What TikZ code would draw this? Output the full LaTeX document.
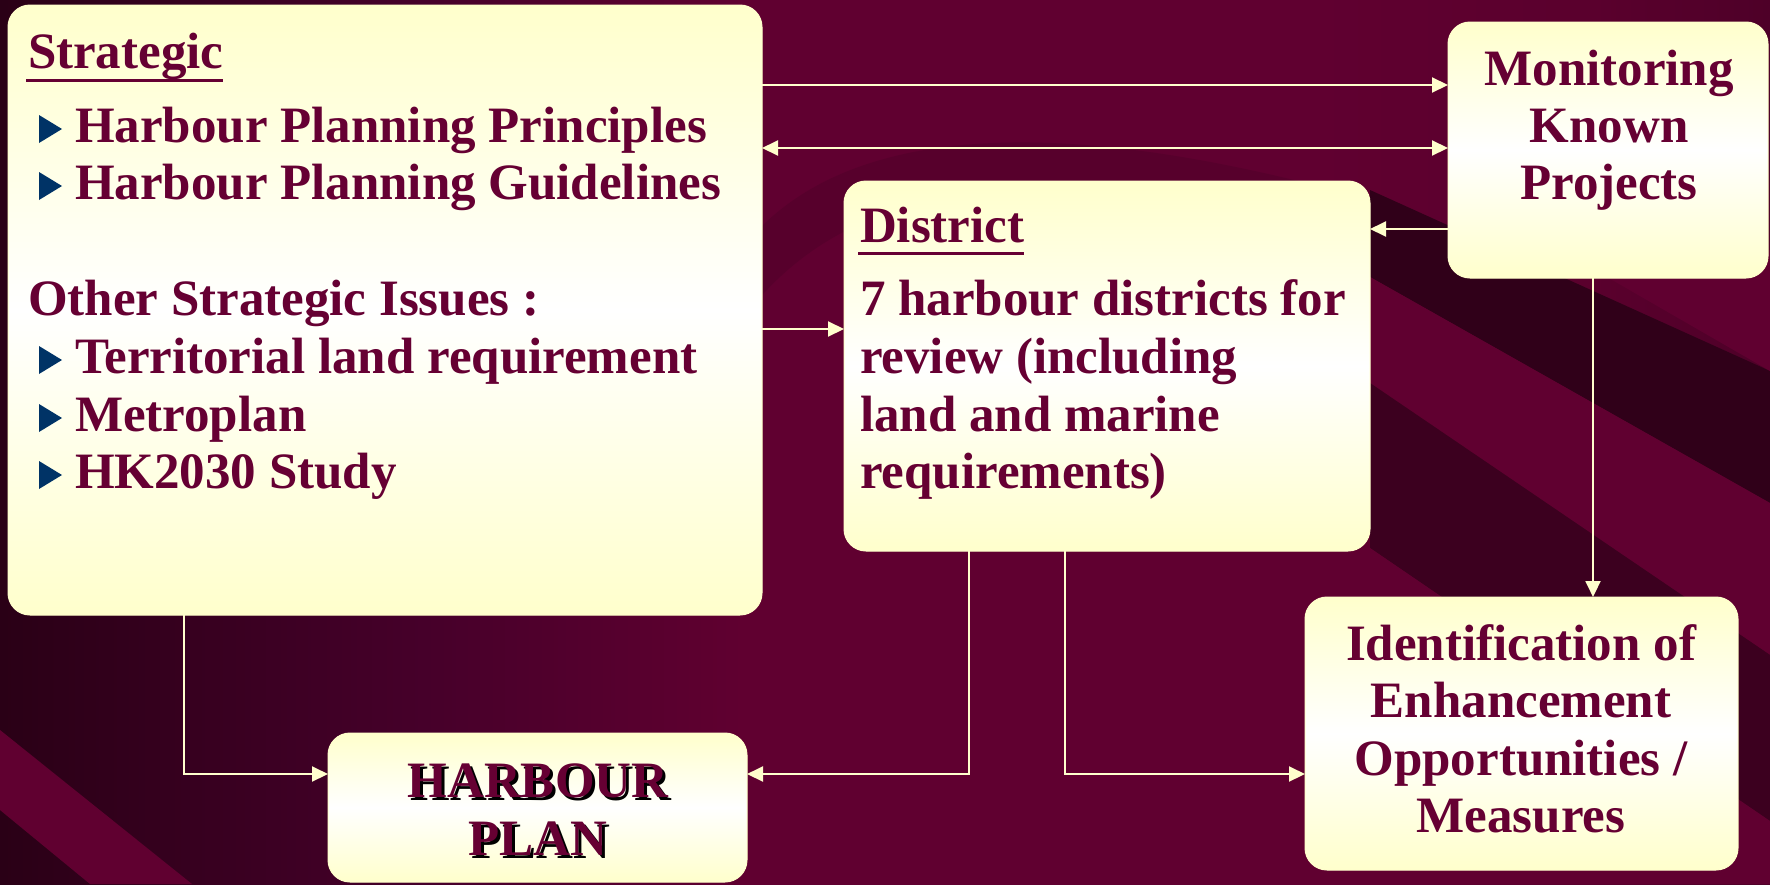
\documentclass[tikz,border=0pt]{standalone}
\usepackage{fontspec}
\setmainfont{Liberation Serif}
\usetikzlibrary{arrows.meta,fit,calc}
\definecolor{bgmid}{HTML}{600030}
\definecolor{bgA}{HTML}{2A0016}
\definecolor{bgB}{HTML}{46002A}
\definecolor{bgC}{HTML}{5A002D}
\definecolor{bgD}{HTML}{4E0028}
\definecolor{banddark}{HTML}{3C001F}
\definecolor{banddarker}{HTML}{300019}
\definecolor{bandsoft}{HTML}{57002C}
\definecolor{boxyellow}{HTML}{FFFFCC}
\definecolor{txt}{HTML}{660033}
\definecolor{bulletblue}{HTML}{003366}
\pgfdeclarehorizontalshading{bgshade}{100bp}{color(0bp)=(bgA); color(25bp)=(bgA); color(37bp)=(bgB); color(46bp)=(bgmid); color(62bp)=(bgmid); color(70bp)=(bgC); color(75bp)=(bgD); color(100bp)=(bgD)}
\tikzset{
  box/.style={rounded corners=11pt, top color=boxyellow, bottom color=boxyellow, middle color=white, draw=boxyellow, line width=0.5pt, inner sep=0pt, outer sep=0pt},
  lbl/.style={inner sep=0pt, outer sep=0pt, text=txt, font=\fontsize{25.5}{28.75}\selectfont\bfseries, anchor=base west},
  clbl/.style={lbl, anchor=base},
  shadowlbl/.style={clbl, text=black},
  conn/.style={draw=boxyellow, line width=1pt, -{Triangle[length=8pt,width=7.5pt]}},
  dconn/.style={draw=boxyellow, line width=1pt, {Triangle[length=8pt,width=7.5pt]}-{Triangle[length=8pt,width=7.5pt]}},
  uline/.style={draw=txt, line width=1.5pt},
  bul/.style={fill=bulletblue},
}
\newcommand{\mybullet}[1]{\fill[bul] (39,#1-27) -- (62,#1-13) -- (39,#1+1) -- cycle;}
\begin{document}
\begin{tikzpicture}[x=0.5pt,y=-0.5pt]
\useasboundingbox (0,0) rectangle (1770,884);
% background
\begin{scope}
\clip (0,0) rectangle (1770,884);
\shade[shading=bgshade] (0,0) rectangle (1770,884);
% soft arc in the middle
\fill[bandsoft] (700,330) .. controls (760,140) and (980,90) .. (1370,200) -- (1370,240) .. controls (1000,150) and (820,180) .. (715,360) -- cycle;
% right-hand diagonal bands (left ends hidden behind the district box)
\fill[banddarker] (1370,190) -- (1770,371) -- (1770,503) -- (1370,277) -- cycle;
\fill[bgmid] (1370,277) -- (1770,503) -- (1770,655) -- (1370,383) -- cycle;
\fill[banddark] (1370,383) -- (1770,655) -- (1770,821) -- (1370,548) -- cycle;
\fill[bgmid] (1370,548) -- (1770,821) -- (1770,884) -- (1300,884) -- (1300,548) -- cycle;
\fill[bgmid] (1560,250) -- (1770,250) -- (1770,371) -- cycle;
% bottom-left band
\fill[bgmid] (0,730) -- (192,884) -- (90,884) -- (0,810) -- cycle;
\end{scope}
% coordinates
\coordinate (r85) at (0,85);
\coordinate (r148) at (0,148);
\coordinate (r229) at (0,229);
\coordinate (r329) at (0,329);
\coordinate (r774) at (0,774);
\coordinate (c184) at (184,0);
\coordinate (c969) at (969,0);
\coordinate (c1065) at (1065,0);
\coordinate (c1593) at (1593,0);
% boxes
\node[box, fit={(8,5) (762,615)}] (strat) {};
\node[box, fit={(1448,22) (1768,278)}] (mon) {};
\node[box, fit={(844,181) (1370,551)}] (dist) {};
\node[box, fit={(328,733) (747,882)}] (hp) {};
\node[box, fit={(1305,597) (1738,870)}] (iden) {};
% connectors
\draw[conn] (strat.east |- r85) -- (mon.west |- r85);
\draw[dconn] (strat.east |- r148) -- (mon.west |- r148);
\draw[conn] (mon.west |- r229) -- (dist.east |- r229);
\draw[conn] (strat.east |- r329) -- (dist.west |- r329);
\draw[conn] (mon.south -| c1593) -- (iden.north -| c1593);
\draw[conn] (strat.south -| c184) |- (hp.west |- r774);
\draw[conn] (dist.south -| c969) |- (hp.east |- r774);
\draw[conn] (dist.south -| c1065) |- (iden.west |- r774);
% strategic text
\node[lbl] (sh) at (28,68) {Strategic};
\draw[uline] ($(sh.base west)+(-2,12)$) -- ($(sh.base east)+(0,12)$);
\node[lbl] (s1) at (75,142) {Harbour Planning Principles};
\node[lbl] (s2) at (75,199) {Harbour Planning Guidelines};
\node[lbl] (s3) at (28,315) {Other Strategic Issues :};
\node[lbl] (s4) at (75,373) {Territorial land requirement};
\node[lbl] (s5) at (75,431) {Metroplan};
\node[lbl] (s6) at (75,488) {HK2030 Study};
\mybullet{142}
\mybullet{199}
\mybullet{373}
\mybullet{431}
\mybullet{488}
% district text
\node[lbl] (dh) at (860,242) {District};
\draw[uline] ($(dh.base west)+(-2,11)$) -- ($(dh.base east)+(0,11)$);
\node[lbl] (d1) at (860,315) {7 harbour districts for};
\node[lbl] (d2) at (860,373) {review (including};
\node[lbl] (d3) at (860,431) {land and marine};
\node[lbl] (d4) at (860,488) {requirements)};
% monitoring text
\node[clbl] (m1) at (1609,85) {Monitoring};
\node[clbl] (m2) at (1609,142) {Known};
\node[clbl] (m3) at (1609,199) {Projects};
% identification text
\node[clbl] (i1) at (1521,660) {Identification of};
\node[clbl] (i2) at (1521,717) {Enhancement};
\node[clbl] (i3) at (1521,775) {Opportunities /};
\node[clbl] (i4) at (1521,832) {Measures};
% harbour plan text with shadow
\node[shadowlbl] (h1s) at (541,800) {HARBOUR};
\node[shadowlbl] (h2s) at (541,858) {PLAN};
\node[clbl] (h1) at (538,797) {HARBOUR};
\node[clbl] (h2) at (538,855) {PLAN};
\end{tikzpicture}
\end{document}
